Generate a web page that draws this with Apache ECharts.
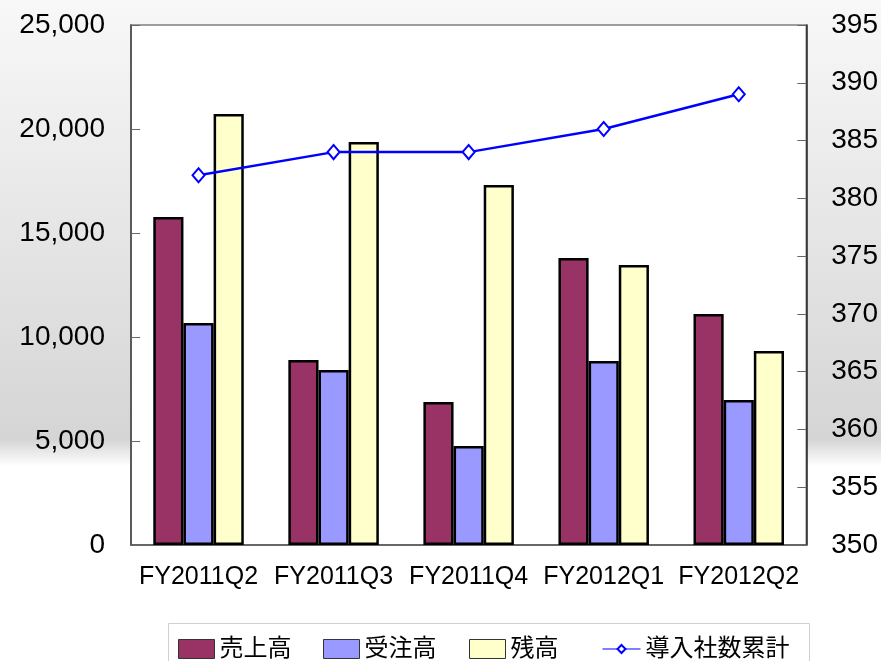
<!DOCTYPE html>
<html><head><meta charset="utf-8">
<script src="https://cdn.jsdelivr.net/npm/echarts@6/dist/echarts.min.js"></script>
<style>html,body{margin:0;padding:0;}#c{width:881px;height:661px;}</style>
</head><body><div id="c"></div>
<script>
const categories = ['FY2011Q2','FY2011Q3','FY2011Q4','FY2012Q1','FY2012Q2'];
const sales = [15770, 8890, 6870, 13800, 11100];
const orders = [10670, 8410, 4760, 8850, 6970];
const backlog = [20720, 19380, 17310, 13460, 9330];
const clients = [382, 384, 384, 386, 389];
const seriesNames = ['売上高','受注高','残高','導入社数累計'];

const FONT = "'Liberation Sans','Noto Sans CJK JP',sans-serif";
const chart = echarts.init(document.getElementById('c'), null, {renderer:'canvas'});
const legendLefts = [178, 323, 469, 602];
const barColors = ['#993366','#9999ff','#ffffcc'];
const barData = [sales, orders, backlog];

const option = {
  animation: false,
  backgroundColor: new echarts.graphic.LinearGradient(0,0,0,1,[
    {offset:0, color:'#f8f8f8'},
    {offset:0.665, color:'#d5d5d5'},
    {offset:0.705, color:'#ffffff'},
    {offset:1, color:'#ffffff'}
  ]),
  graphic: [{
    type:'rect', left:168, top:623, shape:{width:641, height:60},
    style:{fill:'#ffffff', stroke:'#d0d0d0', lineWidth:1}, z:-1
  }],
  legend: seriesNames.map((n,i)=>({
    data:[n], left: legendLefts[i], top: 637, padding:0,
    icon: i===3 ? undefined : 'rect',
    itemWidth: i===3 ? 38 : 36, itemHeight: i===3 ? 10 : 19, itemGap: 0,
    textStyle:{fontFamily:FONT, fontSize:24, color:'#000', padding:[2,0,0,0]},
    itemStyle: i===3 ? {borderWidth:1.5} : {borderColor:'#333', borderWidth:1},
    lineStyle: i===3 ? {width:1} : undefined
  })),
  grid: {left:131, right:73, top:25, bottom:116, show:true, backgroundColor:'#ffffff', borderColor:'#808080', borderWidth:1.5},
  xAxis: {
    type:'category', data: categories,
    axisLine:{lineStyle:{color:'#555', width:1.5}},
    axisTick:{inside:true, length:9, lineStyle:{color:'#808080'}},
    axisLabel:{fontFamily:FONT, fontSize:25, color:'#000', margin:20, interval:0, hideOverlap:false}
  },
  yAxis: [{
    type:'value', min:0, max:25000, interval:5000,
    axisLine:{show:true, lineStyle:{color:'#444', width:1.5}},
    axisTick:{show:true, inside:true, length:9, lineStyle:{color:'#666'}},
    splitLine:{show:false},
    axisLabel:{fontFamily:FONT, fontSize:28, color:'#000', margin:26, padding:[4,0,0,0],
      formatter: v => v.toLocaleString('en-US')}
  },{
    type:'value', min:350, max:395, interval:5, position:'right',
    axisLine:{show:true, lineStyle:{color:'#222', width:1.5}},
    axisTick:{show:true, inside:true, length:9, lineStyle:{color:'#666'}},
    splitLine:{show:false},
    axisLabel:{fontFamily:FONT, fontSize:28, color:'#000', margin:25, padding:[4,0,0,0]}
  }],
  series: [
    ...barData.map((d,i)=>({
      name: seriesNames[i], type:'bar', data:d, yAxisIndex:0,
      barGap:'0%', barCategoryGap:'33%',
      itemStyle:{color:barColors[i], borderColor:'#000', borderWidth:2.5}
    })),
    {
      name: seriesNames[3], type:'line', data:clients, yAxisIndex:1,
      symbol:'emptyDiamond', symbolSize:[12,14],
      lineStyle:{color:'#0000ff', width:2.5},
      itemStyle:{color:'#0000ff', borderColor:'#0000ff', borderWidth:2.5}
    }
  ]
};
chart.setOption(option);
</script></body></html>
